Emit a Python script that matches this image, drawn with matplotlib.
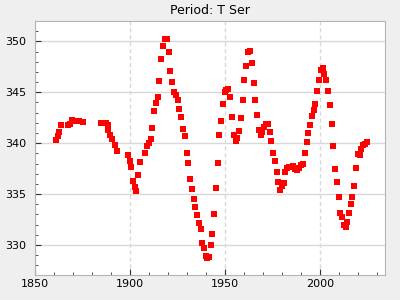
import matplotlib
matplotlib.use("Agg")
import matplotlib.pyplot as plt
from matplotlib.ticker import MultipleLocator

# T Ser period estimates
years = [1860.8, 1861.9, 1862.4, 1863.5, 1867.1, 1868.2, 1869.4, 1870.6, 1871.7, 1873.1, 1875.0,
         1884.8, 1886.0, 1887.3, 1888.3, 1888.6, 1889.5, 1890.7, 1892.3, 1893.3,
         1899.1, 1900.0, 1900.7, 1901.6, 1902.8, 1903.3, 1904.4, 1905.4, 1908.0, 1909.1,
         1910.1, 1911.2, 1911.7, 1912.7, 1913.8, 1914.8, 1915.4, 1916.4, 1917.5, 1918.5,
         1919.6, 1920.6, 1921.1, 1922.2, 1923.2, 1924.3, 1925.3, 1925.9, 1926.9, 1928.0,
         1929.0, 1930.0, 1930.6, 1931.6, 1932.7, 1933.7, 1934.2, 1935.3, 1936.3, 1937.4,
         1937.9, 1938.9, 1940.0, 1940.5, 1941.6, 1942.6, 1943.1, 1944.2, 1945.3, 1946.3,
         1946.8, 1947.9, 1948.9, 1950.0, 1950.5, 1951.5, 1952.6, 1953.6, 1954.7, 1955.7,
         1956.3, 1957.3, 1958.4, 1959.4, 1959.9, 1961.0, 1962.0, 1963.1, 1964.1, 1965.2,
         1965.7, 1966.7, 1967.8, 1968.8, 1969.4, 1970.4, 1971.5, 1972.5, 1973.6, 1974.1,
         1975.1, 1976.2, 1977.2, 1977.8, 1978.8, 1979.9, 1980.9, 1981.4, 1982.5, 1983.5,
         1984.6, 1985.6, 1986.7, 1987.7, 1988.8, 1989.8, 1990.9, 1991.9, 1993.0, 1993.5,
         1994.5, 1995.6, 1996.6, 1997.2, 1998.2, 1999.3, 2000.3, 2001.4, 2001.9, 2002.9,
         2004.0, 2005.0, 2006.1, 2006.6, 2007.7, 2008.7, 2009.8, 2010.3, 2011.3, 2012.4,
         2013.4, 2014.0, 2015.0, 2016.1, 2016.6, 2017.6, 2018.7, 2019.7, 2020.8, 2021.3,
         2022.4, 2023.4, 2024.5]
period = [340.29, 340.69, 341.14, 341.76, 341.76, 341.89, 342.31, 342.2, 342.2, 342.16, 342.06,
          341.96, 341.96, 341.96, 341.76, 341.3, 340.84, 340.45, 339.8, 339.22,
          338.82, 338.24, 337.65, 336.3, 335.69, 335.3, 336.86, 338.14, 339.02, 339.7,
          340.0, 340.39, 341.47, 343.14, 343.92, 344.51, 346.08, 348.24, 349.51, 350.2,
          350.2, 348.92, 347.06, 345.98, 345.0, 344.71, 344.22, 343.33, 342.55, 341.37,
          340.69, 339.02, 338.04, 336.47, 335.49, 334.51, 333.73, 332.94, 332.16, 331.57,
          330.2, 329.71, 328.92, 328.73, 328.82, 330.0, 331.08, 333.04, 335.59, 338.04,
          340.78, 342.16, 343.82, 345.0, 345.2, 345.29, 344.51, 342.55, 340.78, 340.2,
          340.49, 341.18, 342.45, 344.22, 346.18, 347.55, 348.92, 349.02, 347.84, 345.88,
          344.22, 342.75, 341.27, 340.78, 341.08, 341.57, 341.86, 341.86, 341.08, 340.2,
          339.02, 338.24, 337.16, 336.18, 335.39, 335.78, 336.08, 337.16, 337.55, 337.65,
          337.65, 337.75, 337.45, 337.35, 337.55, 337.84, 337.94, 339.02, 340.1, 340.98,
          341.76, 342.65, 343.24, 343.82, 345.1, 346.18, 347.16, 347.35, 346.76, 346.18,
          345.1, 343.73, 341.86, 339.71, 337.45, 336.18, 334.71, 333.14, 332.75, 331.96,
          331.76, 332.25, 333.14, 334.02, 334.71, 335.78, 337.55, 338.92, 338.82, 339.41,
          339.8, 339.9, 340.1]

fig = plt.figure(figsize=(4, 3), dpi=100, facecolor="#efefef")
ax = fig.add_axes([35 / 400, 25 / 300, 350 / 400, 254 / 300])
ax.set_facecolor("white")

ax.plot(years, period, linestyle="none", marker="s", markersize=3.7,
        color="#ff0000", markeredgewidth=0)

ax.set_xlim(1850, 2034)
ax.set_ylim(327.05, 352)
ax.xaxis.set_major_locator(MultipleLocator(50))
ax.xaxis.set_minor_locator(MultipleLocator(10))
ax.yaxis.set_major_locator(MultipleLocator(5))
ax.yaxis.set_minor_locator(MultipleLocator(1))

ax.grid(axis="y", which="major", color="#d8d8d8", linewidth=1, linestyle="-")
ax.grid(axis="x", which="major", color="#d8d8d8", linewidth=1, linestyle=(0, (3, 2)))
ax.set_axisbelow(True)

ax.tick_params(which="both", direction="in", top=False, right=False,
               labelsize=8, color="#333333")
ax.tick_params(axis="x", pad=3)
ax.tick_params(axis="y", pad=6.5)
ax.tick_params(which="major", length=4)
ax.tick_params(which="minor", length=2.3)
for s in ax.spines.values():
    s.set_color("#b4b4b4")

ax.set_title("Period: T Ser", fontsize=9, pad=5)

fig.savefig("out.png", dpi=100, facecolor=fig.get_facecolor())
